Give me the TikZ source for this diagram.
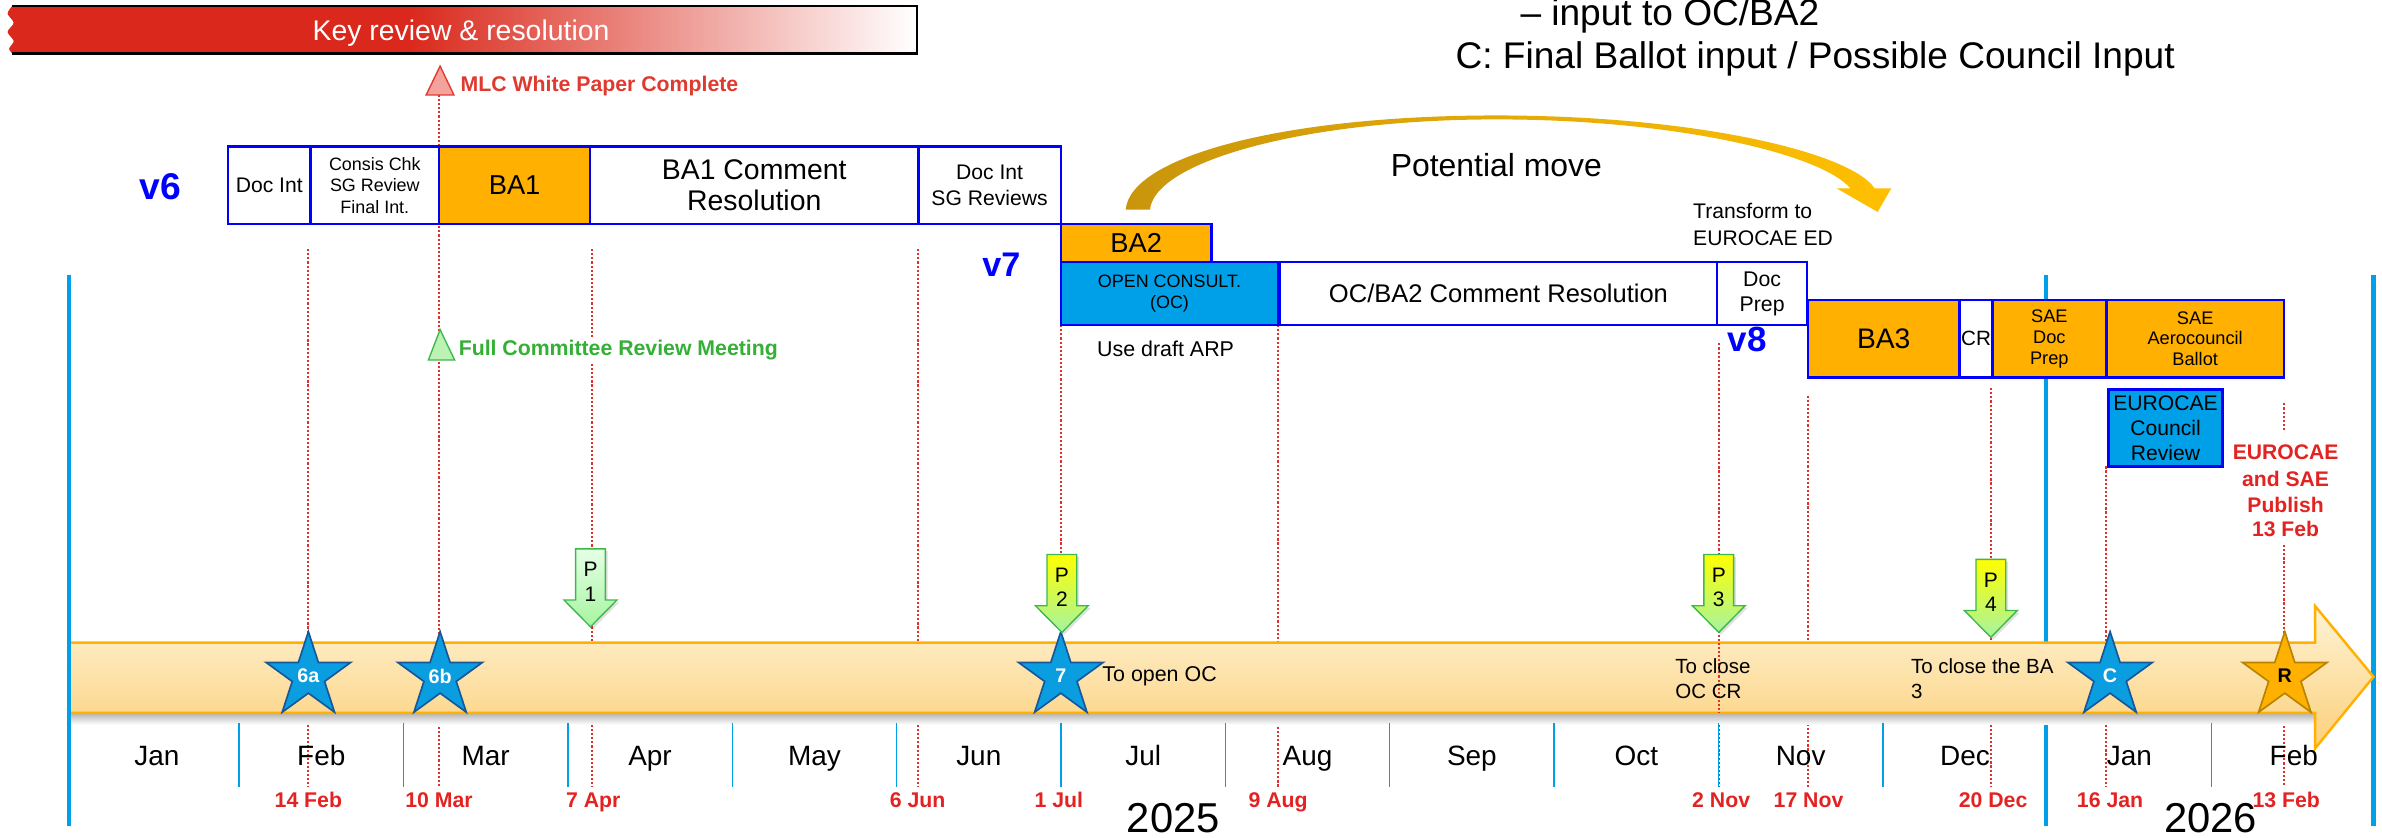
\documentclass[tikz,border=0pt]{standalone}
\usepackage{fontspec}
\setmainfont{Liberation Sans}
\usetikzlibrary{shapes.geometric}

\definecolor{keyred}{HTML}{DA291C}
\definecolor{boxblue}{HTML}{0000FF}
\definecolor{ocblue}{HTML}{00A0E9}
\definecolor{bafill}{HTML}{FFB000}
\definecolor{datered}{HTML}{E32322}
\definecolor{dotred}{HTML}{E0302A}
\definecolor{starblue}{HTML}{0A9DE0}
\definecolor{starline}{HTML}{16579A}
\definecolor{rstarline}{HTML}{B88400}
\definecolor{meetgreen}{HTML}{33B035}
\definecolor{bandtop}{HTML}{FFF3D6}
\definecolor{bandbot}{HTML}{FBD07A}
\definecolor{bandline}{HTML}{FFB000}
\definecolor{arrowdark}{HTML}{C9950C}
\definecolor{arrowlight}{HTML}{FFF4D0}
\definecolor{arrowgold}{HTML}{FFC000}
\definecolor{pgreen}{HTML}{3DB84A}
\definecolor{pgreenfill}{HTML}{A6F4A0}
\definecolor{plight}{HTML}{E6FFE6}
\definecolor{pyellow}{HTML}{FFFF00}
\definecolor{mlcfill}{HTML}{F4A29C}
\definecolor{mlcline}{HTML}{E03A30}
\definecolor{meetfill}{HTML}{BDF2B5}

\newcommand{\fsz}[2]{\fontsize{#1}{#2}\selectfont}

% P marker: down arrow with stacked "P" and number
% #1 name, #2 centre x, #3 top y, #4 top colour, #5 bottom colour, #6 number
\newcommand{\PArrow}[6]{%
  \fill[black, opacity=0.12]
    (#2-8.3,#3+1.5) -- (#2+11.3,#3+1.5) -- (#2+11.3,#3+35.2) -- (#2+18.9,#3+35.2)
    -- (#2+1.5,#3+52.8) -- (#2-15.9,#3+35.2) -- (#2-8.3,#3+35.2) -- cycle;
  \shade[parrowshape, top color=#4, bottom color=#5]
    (#2-9.8,#3) -- (#2+9.8,#3) -- (#2+9.8,#3+33.7) -- (#2+17.4,#3+33.7)
    -- (#2,#3+51.3) -- (#2-17.4,#3+33.7) -- (#2-9.8,#3+33.7) -- cycle;
  \node[ptext] (#1p) at (#2,#3+18.3) {P};
  \node[ptext] (#1n) at (#2,#3+34.4) {#6};
}

\begin{document}
\begin{tikzpicture}[x=1pt, y=-1pt,
  stagebox/.style={draw=boxblue, line width=1.6pt, inner sep=0pt, align=center, fill=white, text=black},
  babox/.style={stagebox, fill=bafill},
  ocbox/.style={stagebox, fill=ocblue},
  verlabel/.style={text=boxblue, anchor=base west, inner sep=0pt},
  plain/.style={inner sep=0pt, text=black},
  monthlbl/.style={plain, anchor=base, font=\fsz{18.4}{20}},
  datelbl/.style={inner sep=0pt, anchor=base, text=datered, font=\bfseries\fsz{14}{16}},
  dateline/.style={draw=dotred, line width=1.3pt, dash pattern=on 1.4pt off 1.3pt},
  monthsep/.style={draw=ocblue, line width=0.9pt},
  yearline/.style={draw=ocblue, line width=3pt},
  starnode/.style={star, star points=5, star point ratio=2.618, minimum size=58.6pt,
    inner sep=0pt, draw=starline, line width=1.1pt, fill=starblue, text=white,
    font=\bfseries\fsz{13}{13}},
  ptext/.style={inner sep=0pt, anchor=base, font=\fsz{13.8}{14}},
  parrowshape/.style={draw=pgreen, line width=0.9pt, line join=miter},
]
\useasboundingbox (0,0) rectangle (1568,551);
\fill[white] (0,0) rectangle (1568,551);

% year boundary lines
\draw[yearline] (1346.7,181) -- (1346.7,544);
\draw[yearline] (1562.4,181) -- (1562.4,544);

% milestone date lines
\foreach \x/\t in {203/164, 289/62.5, 389.4/164, 604/164, 698.3/214, 841.4/214,
                   1131.5/226, 1190/260.5, 1310.5/255.5, 1386.4/307}
  \draw[dateline] (\x,\t) -- (\x,518);
\draw[dateline] (1503.5,265.5) -- (1503.5,283);
\draw[dateline] (1503.5,358.8) -- (1503.5,518);

% timeline band with soft shadow
\shade[top color=black!35, bottom color=white] (46,468) rectangle (1524,477);
\shade[top color=bandtop, bottom color=bandbot]
  (45.3,423) -- (1524,423) -- (1524,399) -- (1562.4,445.5) -- (1524,492.6)
  -- (1524,469.2) -- (45.3,469.2) -- cycle;
\draw[bandline, line width=1.6pt, line join=miter]
  (45.3,423) -- (1524,423) -- (1524,399) -- (1562.4,445.5) -- (1524,492.6)
  -- (1524,469.2) -- (45.3,469.2);
\draw[yearline] (45.3,181) -- (45.3,544);
\draw[dateline] (1131.5,423) -- (1131.5,469);

% months
\foreach \k in {1,2,3,4,5,6,7,8,9,10,11,13}
  \draw[monthsep] ({49.2+\k*108.2},476.2) -- ({49.2+\k*108.2},517.9);
\foreach \m [count=\i from 0] in {Jan,Feb,Mar,Apr,May,Jun,Jul,Aug,Sep,Oct,Nov,Dec,Jan,Feb}
  \node[monthlbl] (month\i) at ({49.2+(\i+0.5)*108.2},503.6) {\m};

% dates
\foreach \x/\d [count=\i] in {203/14 Feb, 289/10 Mar, 390.5/7 Apr, 604/6 Jun, 697/1 Jul,
    841.4/9 Aug, 1133/2 Nov, 1190.5/17 Nov, 1312/20 Dec, 1389/16 Jan, 1505/13 Feb}
  \node[datelbl] (date\i) at (\x,531.5) {\d};

\node[plain, anchor=base west, font=\fsz{27.5}{30}] (y2025) at (741.6,548) {2025};
\node[plain, anchor=base west, font=\fsz{27.5}{30}] (y2026) at (1424.3,548) {2026};

% v6 stages
\node[verlabel, font=\bfseries\fsz{24.5}{26}] (v6) at (91.5,131) {v6};
\node[stagebox, minimum width=54.5pt, minimum height=51pt, font=\fsz{13.9}{17}] (docint) at (177.25,122) {Doc Int};
\node[stagebox, minimum width=84.5pt, minimum height=51pt, font=\fsz{11.8}{14}] (consis) at (246.75,122) {Consis Chk\\SG Review\\Final Int.};
\node[babox, minimum width=99.5pt, minimum height=51pt, font=\fsz{18}{20}] (ba1) at (338.75,122) {BA1};
\node[stagebox, minimum width=216pt, minimum height=51pt, font=\fsz{18.7}{20.2}] (ba1cr) at (496.5,122) {BA1 Comment\\Resolution};
\node[stagebox, minimum width=93.8pt, minimum height=51pt, font=\fsz{13.9}{17}] (docint2) at (651.4,122) {Doc Int\\SG Reviews};

% v7 stages
\node[verlabel, font=\bfseries\fsz{22.5}{24}] (v7) at (646.4,182) {v7};
\node[babox, minimum width=99.2pt, minimum height=24.8pt, font=\fsz{18}{20}] (ba2) at (747.9,159.9) {BA2};
\node[ocbox, minimum width=143.1pt, minimum height=41.7pt, font=\fsz{11.8}{14.2}] (oc) at (769.85,193.15) {OPEN CONSULT.\\(OC)};
\node[stagebox, minimum width=288pt, minimum height=41.7pt, font=\fsz{16.8}{18}] (ocba2cr) at (986.4,193.15) {OC/BA2 Comment Resolution};
\node[stagebox, minimum width=59.1pt, minimum height=41.7pt, font=\fsz{14}{16.5}] (docprep) at (1159.95,193.15) {Doc\\Prep};
\node[plain, anchor=base west, font=\fsz{14.1}{16}] (draftarp) at (722,234.8) {Use draft ARP};

% v8 stages
\node[verlabel, font=\bfseries\fsz{23}{24}] (v8) at (1137,231.5) {v8};
\node[babox, minimum width=100pt, minimum height=50.9pt, font=\fsz{18.6}{20}] (ba3) at (1240,222.95) {BA3};
\node[stagebox, minimum width=21.5pt, minimum height=50.9pt, font=\fsz{13.6}{15}] (cr) at (1300.75,222.95) {CR};
\node[babox, minimum width=75pt, minimum height=50.9pt, font=\fsz{12}{13.8}] (saedoc) at (1349,222.95) {SAE\\Doc\\Prep};
\node[babox, minimum width=117pt, minimum height=50.9pt, font=\fsz{12}{13.8}] (saeaero) at (1445,222.95) {SAE\\Aerocouncil\\Ballot};
\node[ocbox, minimum width=75pt, minimum height=50.9pt, font=\fsz{13.9}{16.4}] (eurocae) at (1425.5,281.75) {EUROCAE\\Council\\Review};

% publication note
\foreach \t/\yb [count=\i] in {EUROCAE/302.8, and SAE/320.4, Publish/337.5, 13 Feb/353.3}
  \node[datelbl, font=\bfseries\fsz{13.9}{16}] (pub\i) at (1504.5,\yb) {\t};

% transform note
\node[plain, anchor=base west, font=\fsz{13.9}{16}] (tr1) at (1114.4,143.8) {Transform to};
\node[plain, anchor=base west, font=\fsz{13.9}{16}] (tr2) at (1114.4,161.3) {EUROCAE ED};

% white paper and committee meeting markers
\draw[fill=mlcfill, draw=mlcline, line width=0.9pt, line join=miter] (289.7,43.5) -- (298.8,62.5) -- (280.5,62.5) -- cycle;
\node[plain, anchor=base west, text=mlcline, font=\bfseries\fsz{14}{16}] (mlc) at (303,60) {MLC White Paper Complete};
\draw[fill=meetfill, draw=pgreen, line width=0.9pt, line join=miter] (289.7,217) -- (299.3,237) -- (282,237) -- cycle;
\node[inner sep=1pt, fill=white, anchor=base west, text=meetgreen, font=\bfseries\fsz{14}{16}] (fcr) at (300.8,234) {Full Committee Review Meeting};

% band annotations
\node[plain, anchor=base west, font=\fsz{14.1}{16}] (openoc) at (725.5,448.7) {To open OC};
\node[plain, anchor=base west, font=\fsz{13.5}{16}] (close1) at (1102.6,443.3) {To close};
\node[plain, anchor=base west, font=\fsz{13.5}{16}] (close2) at (1102.6,459.7) {OC CR};
\node[plain, anchor=base west, font=\fsz{13.5}{16}] (closeba1) at (1257.8,443.3) {To close the BA};
\node[plain, anchor=base west, font=\fsz{13.5}{16}] (closeba2) at (1257.8,459.7) {3};

% ballot stars
\node[starnode] (s6a) at (203,445.1) {6a};
\node[starnode] (s6b) at (289.7,445.1) {6b};
\node[starnode] (s7) at (698.3,445.1) {7};
\node[starnode] (sc) at (1389,445.1) {C};
\node[starnode, fill=bafill, draw=rstarline, text=black] (sr) at (1504,445.1) {R};

% P markers
\PArrow{pa}{388.7}{361.3}{plight}{pgreenfill}{1}
\PArrow{pb}{699}{365}{pyellow}{pgreenfill}{2}
\PArrow{pc}{1131.4}{365}{pyellow}{pgreenfill}{3}
\PArrow{pd}{1310.5}{368.2}{pyellow}{pgreenfill}{4}

% potential move arc
\shade[left color=arrowdark, middle color=arrowlight, right color=arrowgold]
  (741,138) .. controls (744,103) and (845,76) .. (985,76)
  .. controls (1115,76) and (1218,100) .. (1234,124)
  -- (1245,124) -- (1236,139.5) -- (1209,124) -- (1218,124)
  .. controls (1200,102) and (1105,78.6) .. (985,78.6)
  .. controls (860,78.6) and (760,106) .. (757,138) -- cycle;
\node[plain, anchor=base, font=\fsz{21}{24}] (potmove) at (985,116.3) {Potential move};

% key review banner
\fill[keyred] plot[smooth] coordinates {(8,4) (5,9) (9,15) (5,21) (9,27) (6,32) (8,35)}
  -- (270,35) -- (270,4) -- cycle;
\shade[left color=keyred, right color=white] (269.5,4) rectangle (603.5,35);
\draw[line width=1pt] (8,4) -- (603.5,4) -- (603.5,35);
\draw[line width=1.8pt] (8,35.2) -- (604.3,35.2);
\node[inner sep=0pt, anchor=base, text=white, font=\fsz{18.7}{20}] (keytxt) at (303.5,26.4) {Key review \& resolution};

% notes at top right
\node[plain, anchor=base west, font=\fsz{24.4}{28}] (note1) at (1000.7,17) {\textendash{} input to OC/BA2};
\node[plain, anchor=base west, font=\fsz{24.4}{28}] (note2) at (958,45) {C: Final Ballot input / Possible Council Input};
\end{tikzpicture}
\end{document}
